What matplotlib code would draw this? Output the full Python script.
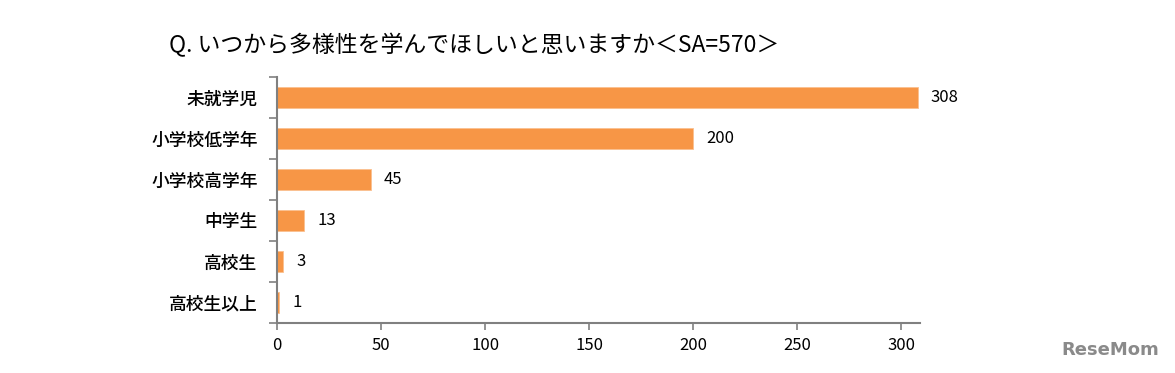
import matplotlib
matplotlib.use("Agg")
import matplotlib.pyplot as plt
from matplotlib.ticker import FixedLocator, NullFormatter

plt.rcParams['font.family'] = ['Noto Sans CJK JP', 'DejaVu Sans']

categories = ["未就学児", "小学校低学年", "小学校高学年", "中学生", "高校生", "高校生以上"]
values = [308, 200, 45, 13, 3, 1]
xticks = [0, 50, 100, 150, 200, 250, 300]
title = "Q. いつから多様性を学んでほしいと思いますか＜SA=570＞"

fig = plt.figure(figsize=(11.75, 3.73), dpi=100)
ax = fig.add_axes([277/1175, 1-323/373, (920-277)/1175, (323-77)/373])

n = len(categories)
ypos = list(range(n))
ax.barh(ypos, values, height=0.52, color="#F79646", edgecolor="#FAC090", linewidth=0.6)
ax.set_ylim(n-0.5, -0.5)
ax.set_xlim(0, 309)
ax.set_yticks(ypos)
ax.set_yticklabels(categories, fontsize=12.8, fontweight='medium')
ax.tick_params(axis='y', length=0, pad=14)
ax.yaxis.set_minor_locator(FixedLocator([i-0.5 for i in range(n+1)]))
ax.yaxis.set_minor_formatter(NullFormatter())
ax.tick_params(axis='y', which='minor', length=6, color="#808080", width=1.2)
ax.set_xticks(xticks)
ax.tick_params(axis='x', length=5, color="#808080", width=1.2, labelsize=12, pad=5)
for s in ['top', 'right']:
    ax.spines[s].set_visible(False)
for s in ['left', 'bottom']:
    ax.spines[s].set_color("#808080")
    ax.spines[s].set_linewidth(1.5)

for y, v in zip(ypos, values):
    ax.annotate(str(v), (v, y), xytext=(13, 0), textcoords='offset pixels',
                va='center', ha='left', fontsize=12)

fig.text(474/1175, 1-45/373, title, ha='center', va='center', fontsize=16.5)
fig.text(1110/1175, 1-350/373, "ReseMom", ha='center', va='center', fontsize=13,
         color="#8a8a8a", fontweight='bold', family=['DejaVu Sans'])

fig.savefig("out.png", dpi=100)
